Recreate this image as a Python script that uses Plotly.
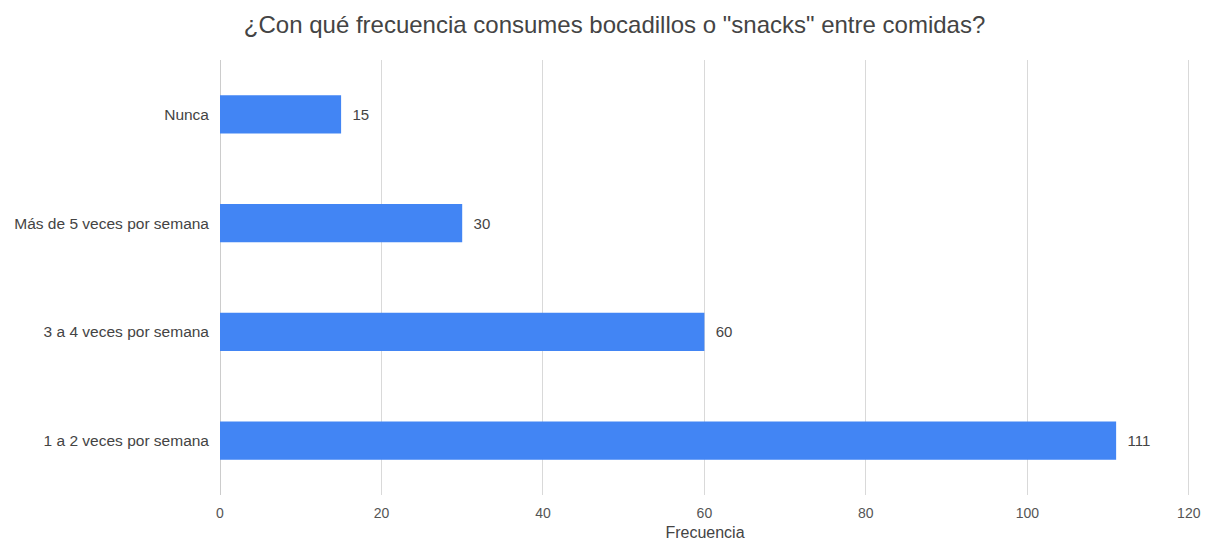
import plotly.graph_objects as go

categories = ["1 a 2 veces por semana", "3 a 4 veces por semana", "Más de 5 veces por semana", "Nunca"]
values = [111, 60, 30, 15]
x_ticks = [0, 20, 40, 60, 80, 100, 120]

fig = go.Figure(go.Bar(
    y=categories, x=values, orientation="h",
    marker=dict(color="#4285f4", line=dict(width=0)),
    text=[str(v) for v in values], texttemplate="  %{text}", textposition="outside",
    textfont=dict(family="Liberation Sans, Arial", size=15, color="#444444"),
    cliponaxis=False,
))

fig.update_layout(
    width=1194, height=533,
    margin=dict(l=212, r=12, t=52, b=46, autoexpand=False),
    paper_bgcolor="white", plot_bgcolor="white",
    bargap=0.65,
    title=dict(text="¿Con qué frecuencia consumes bocadillos o \"snacks\" entre comidas?",
               x=0.508, xanchor="center", y=0.968, yanchor="middle",
               font=dict(family="Liberation Sans, Arial", size=24, color="#444444")),
    font=dict(family="Liberation Sans, Arial", color="#444444", size=14),
    xaxis=dict(range=[0, 120.15], tickvals=x_ticks, showgrid=True, gridcolor="#d9d9d9",
               gridwidth=1, zeroline=True, zerolinecolor="#cccccc", zerolinewidth=1,
               showline=False, ticks="", ticklen=0, automargin=False,
               ticklabelstandoff=8, ticklabeloverflow="allow",
               tickfont=dict(size=14, color="#555555"),
               title=dict(text="Frecuencia", font=dict(size=16, color="#444444"), standoff=14)),
    yaxis=dict(showgrid=False, ticks="", showline=False, automargin=False,
               ticklabelstandoff=10,
               tickfont=dict(size=15.5, color="#444444")),
    showlegend=False,
)

fig.write_html("out.html")
